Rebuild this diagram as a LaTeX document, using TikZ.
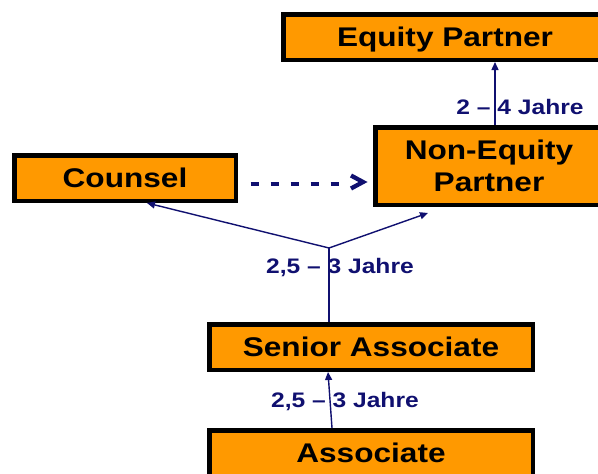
\documentclass[tikz,border=0pt]{standalone}
\usepackage{fontspec}
\setmainfont{Liberation Sans}[FakeStretch=1.17]
\usetikzlibrary{arrows.meta}
\definecolor{boxorange}{RGB}{255,153,0}
\definecolor{navyblue}{RGB}{16,16,112}
\tikzset{
  rolebox/.style={draw=black, line width=4.5pt, fill=boxorange, inner sep=0pt,
    font=\fontsize{27}{32}\selectfont\bfseries, align=center},
  oneline/.style={text height=19.5pt, text depth=0pt},
  yearlabel/.style={text=navyblue, inner sep=0pt, font=\fontsize{21}{25}\selectfont\bfseries,
    text height=15pt, text depth=0pt},
  step arrow/.style={draw=navyblue, line width=1.4pt, -{Triangle[length=8pt,width=7pt]}},
  plain link/.style={draw=navyblue, line width=1.4pt},
  switch dashes/.style={draw=navyblue, line width=4.3pt, dash pattern=on 8pt off 12pt},
  switch head/.style={draw=navyblue, line width=4.3pt, miter limit=10, line join=miter}
}
\begin{document}
\begin{tikzpicture}[x=1pt,y=-1pt]
  \useasboundingbox (0,0) rectangle (598,474);
  \clip (0,0) rectangle (598,474);
  \fill[white] (0,0) rectangle (598,474);

  % career stages
  \node[rolebox, oneline, minimum width=323.5pt, minimum height=45.5pt] (eq) at (445,37) {Equity Partner};
  \node[rolebox, minimum width=227.5pt, minimum height=77.5pt] (nep) at (489,166) {Non-Equity\\Partner};
  \node[rolebox, oneline, minimum width=221.5pt, minimum height=45.5pt] (counsel) at (125,178) {Counsel};
  \node[rolebox, oneline, minimum width=323.5pt, minimum height=45.5pt] (sa) at (371,347) {Senior Associate};
  \node[rolebox, oneline, minimum width=323.5pt, minimum height=45.5pt] (assoc) at (371,453) {Associate};

  % branching point above the senior associate
  \coordinate (J) at (329,248);

  % promotions
  \draw[step arrow] ([xshift=125pt]assoc.north west) -- ([xshift=121pt]sa.south west);
  \draw[plain link] ([xshift=122pt]sa.north west) -- (J);
  \draw[step arrow] (J) -- ([xshift=135pt]counsel.south west);
  \draw[step arrow] (J) -- ([xshift=55pt,yshift=-6pt]nep.south west);
  \draw[step arrow] ([xshift=122pt]nep.north west) -- ([xshift=214pt]eq.south west);

  % lateral move from counsel to non-equity partner: dashes and a ">" head
  \draw[switch dashes] ([xshift=12.5pt,yshift=-6pt]counsel.east) -- ([xshift=-33.5pt,yshift=-6pt]nep.west |- counsel.east);
  \draw[switch head] ([xshift=-22pt,yshift=2.5pt]nep.west |- counsel.east)
    -- ([xshift=-10pt,yshift=-4pt]nep.west |- counsel.east)
    -- ([xshift=-22pt,yshift=-10.5pt]nep.west |- counsel.east);

  % durations
  \node[yearlabel] (t1) at (345,400) {2,5 – 3 Jahre};
  \node[yearlabel] (t2) at (340,266) {2,5 – 3 Jahre};
  \node[yearlabel] (t3) at (520,107) {2 – 4 Jahre};
\end{tikzpicture}
\end{document}
